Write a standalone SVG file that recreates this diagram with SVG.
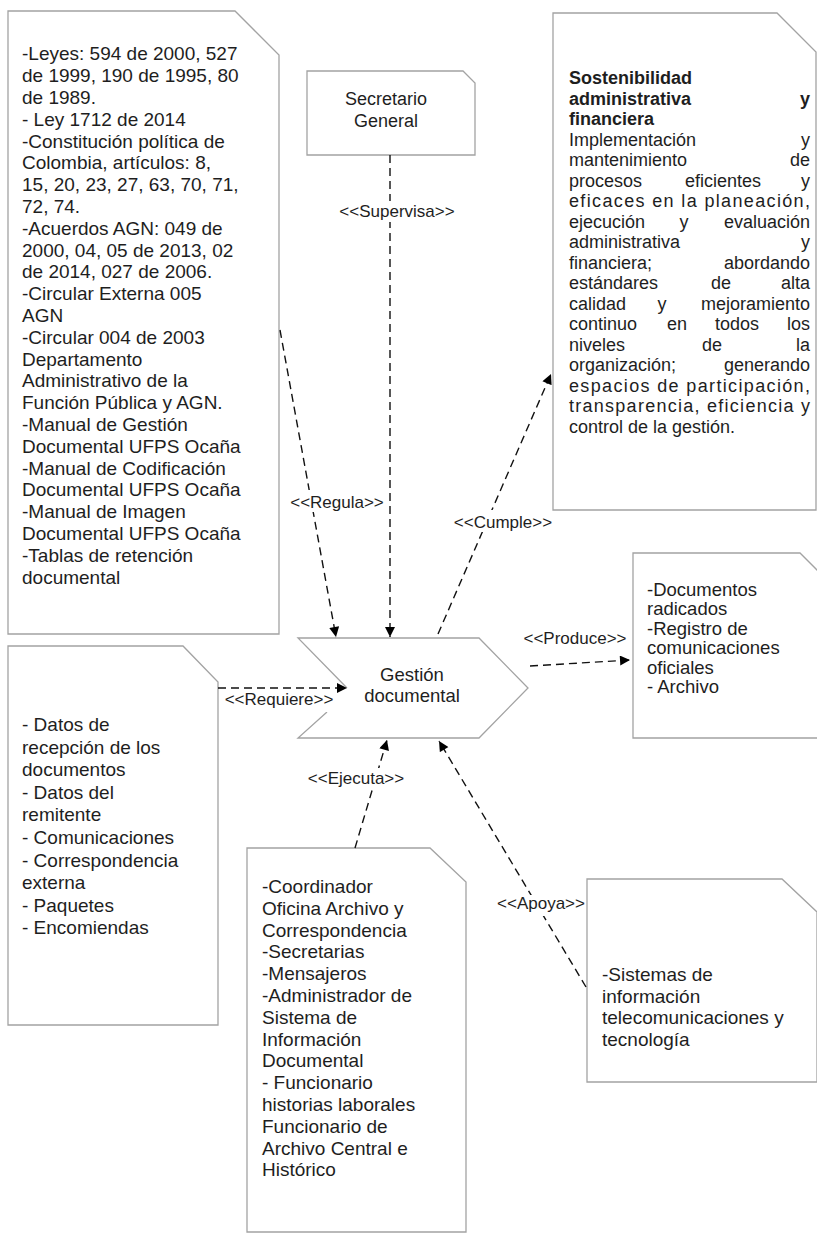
<svg xmlns="http://www.w3.org/2000/svg" width="817" height="1237" viewBox="0 0 817 1237">
<defs>
<style>
.note{fill:#fff;stroke:#a3a3a3;stroke-width:1.3}
.t{font-family:"Liberation Sans",Arial,sans-serif;font-size:19px;fill:#1e1e1e}
.t18{font-family:"Liberation Sans",Arial,sans-serif;font-size:18px;fill:#1e1e1e}
.b{font-weight:bold}
.conn{stroke:#111;stroke-width:1.4;stroke-dasharray:8 5;fill:none}
.lbl{font-family:"Liberation Sans",Arial,sans-serif;font-size:17px;fill:#1e1e1e;text-anchor:middle}
.lblbg{fill:#fff}
</style>
<marker id="ah" viewBox="0 0 10 10" refX="10" refY="5" markerWidth="11" markerHeight="10" markerUnits="userSpaceOnUse" orient="auto">
<path d="M0,0 L10,5 L0,10 z" fill="#000"/>
</marker>
</defs>
<rect width="817" height="1237" fill="#fff"/>

<g id="node-normativa">
<path class="note" d="M8,11 L235,11 L279,55 L279,634 L8,634 Z"/>
<text class="t" x="22" y="60.4">
<tspan x="22" y="60.4">-Leyes: 594 de 2000, 527</tspan>
<tspan x="22" y="82.2">de 1999, 190 de 1995, 80</tspan>
<tspan x="22" y="104">de 1989.</tspan>
<tspan x="22" y="125.8">- Ley 1712 de 2014</tspan>
<tspan x="22" y="147.6">-Constitución política de</tspan>
<tspan x="22" y="169.4">Colombia, artículos: 8,</tspan>
<tspan x="22" y="191.2">15, 20, 23, 27, 63, 70, 71,</tspan>
<tspan x="22" y="213">72, 74.</tspan>
<tspan x="22" y="234.8">-Acuerdos AGN: 049 de</tspan>
<tspan x="22" y="256.6">2000, 04, 05 de 2013, 02</tspan>
<tspan x="22" y="278.4">de 2014, 027 de 2006.</tspan>
<tspan x="22" y="300.2">-Circular Externa 005</tspan>
<tspan x="22" y="322">AGN</tspan>
<tspan x="22" y="343.8">-Circular 004 de 2003</tspan>
<tspan x="22" y="365.6">Departamento</tspan>
<tspan x="22" y="387.4">Administrativo de la</tspan>
<tspan x="22" y="409.2">Función Pública y AGN.</tspan>
<tspan x="22" y="431">-Manual de Gestión</tspan>
<tspan x="22" y="452.8">Documental UFPS Ocaña</tspan>
<tspan x="22" y="474.6">-Manual de Codificación</tspan>
<tspan x="22" y="496.4">Documental UFPS Ocaña</tspan>
<tspan x="22" y="518.2">-Manual de Imagen</tspan>
<tspan x="22" y="540">Documental UFPS Ocaña</tspan>
<tspan x="22" y="561.8">-Tablas de retención</tspan>
<tspan x="22" y="583.6">documental</tspan>
</text>
</g>

<g id="node-secretario">
<path class="note" d="M307,71 L463,71 L475,83 L475,155 L307,155 Z"/>
<text class="t18" text-anchor="middle"><tspan x="386" y="105">Secretario</tspan><tspan x="386" y="127">General</tspan></text>
</g>

<g id="node-sostenibilidad">
<path class="note" d="M553,13 L777,13 L816,52 L816,510 L553,510 Z"/>
<g class="t18">
<text class="t18 b" x="569" y="84">Sostenibilidad</text>
<text class="t18 b" x="569" y="104.5">administrativa</text>
<text class="t18 b" x="810" y="104.5" text-anchor="end">y</text>
<text class="t18 b" x="569" y="125">financiera</text>
<text class="t18" x="569" y="145.5">Implementación</text>
<text class="t18" x="810" y="145.5" text-anchor="end">y</text>
<text class="t18" x="569" y="166">mantenimiento</text>
<text class="t18" x="810" y="166" text-anchor="end">de</text>
<text class="t18" x="569" y="186.5">procesos</text>
<text class="t18" x="723" y="186.5" text-anchor="middle">eficientes</text>
<text class="t18" x="810" y="186.5" text-anchor="end">y</text>
<text class="t18" x="569" y="207" textLength="241" lengthAdjust="spacing">eficaces en la planeación,</text>
<text class="t18" x="569" y="227.5">ejecución</text>
<text class="t18" x="684" y="227.5" text-anchor="middle">y</text>
<text class="t18" x="810" y="227.5" text-anchor="end">evaluación</text>
<text class="t18" x="569" y="248">administrativa</text>
<text class="t18" x="810" y="248" text-anchor="end">y</text>
<text class="t18" x="569" y="268.5">financiera;</text>
<text class="t18" x="810" y="268.5" text-anchor="end">abordando</text>
<text class="t18" x="569" y="289">estándares</text>
<text class="t18" x="721" y="289" text-anchor="middle">de</text>
<text class="t18" x="810" y="289" text-anchor="end">alta</text>
<text class="t18" x="569" y="309.5">calidad</text>
<text class="t18" x="662" y="309.5" text-anchor="middle">y</text>
<text class="t18" x="810" y="309.5" text-anchor="end">mejoramiento</text>
<text class="t18" x="569" y="330">continuo</text>
<text class="t18" x="677" y="330" text-anchor="middle">en</text>
<text class="t18" x="737" y="330" text-anchor="middle">todos</text>
<text class="t18" x="810" y="330" text-anchor="end">los</text>
<text class="t18" x="569" y="350.5">niveles</text>
<text class="t18" x="712" y="350.5" text-anchor="middle">de</text>
<text class="t18" x="810" y="350.5" text-anchor="end">la</text>
<text class="t18" x="569" y="371">organización;</text>
<text class="t18" x="810" y="371" text-anchor="end">generando</text>
<text class="t18" x="569" y="391.5" textLength="241" lengthAdjust="spacing">espacios de participación,</text>
<text class="t18" x="569" y="412" textLength="241" lengthAdjust="spacing">transparencia, eficiencia y</text>
<text class="t18" x="569" y="432.5">control de la gestión.</text>
</g>
</g>

<g id="node-requisitos">
<path class="note" d="M8,646 L183,646 L218,682 L218,1025 L8,1025 Z"/>
<text class="t">
<tspan x="22" y="731">- Datos de</tspan>
<tspan x="22" y="753.6">recepción de los</tspan>
<tspan x="22" y="776.2">documentos</tspan>
<tspan x="22" y="798.8">- Datos del</tspan>
<tspan x="22" y="821.4">remitente</tspan>
<tspan x="22" y="844">- Comunicaciones</tspan>
<tspan x="22" y="866.6">- Correspondencia</tspan>
<tspan x="22" y="889.2">externa</tspan>
<tspan x="22" y="911.8">- Paquetes</tspan>
<tspan x="22" y="934.4">- Encomiendas</tspan>
</text>
</g>

<g id="node-gestion">
<path d="M298,638 L479,638 L528,688 L479,738 L298,738 L347,688 Z" fill="#fff" stroke="none"/>
<path d="M327,712 L298,738 L479,738 L528,688 L479,638 L298,638 L347,688" fill="none" stroke="#a3a3a3" stroke-width="1.3"/>
<text class="t18" text-anchor="middle" style="font-size:18.5px"><tspan x="412" y="681">Gestión</tspan><tspan x="412" y="702">documental</tspan></text>
</g>

<g id="node-productos">
<path class="note" d="M633,553 L800,553 L838,591 L838,738 L633,738 Z"/>
<text class="t" style="font-size:18.5px">
<tspan x="647" y="596">-Documentos</tspan>
<tspan x="647" y="615.4">radicados</tspan>
<tspan x="647" y="634.8">-Registro de</tspan>
<tspan x="647" y="654.2">comunicaciones</tspan>
<tspan x="647" y="673.6">oficiales</tspan>
<tspan x="647" y="693">- Archivo</tspan>
</text>
</g>

<g id="node-responsables">
<path class="note" d="M247,848 L430,848 L466,882 L466,1232 L247,1232 Z"/>
<text class="t">
<tspan x="262" y="893">-Coordinador</tspan>
<tspan x="262" y="914.8">Oficina Archivo y</tspan>
<tspan x="262" y="936.6">Correspondencia</tspan>
<tspan x="262" y="958.4">-Secretarias</tspan>
<tspan x="262" y="980.2">-Mensajeros</tspan>
<tspan x="262" y="1002">-Administrador de</tspan>
<tspan x="262" y="1023.8">Sistema de</tspan>
<tspan x="262" y="1045.6">Información</tspan>
<tspan x="262" y="1067.4">Documental</tspan>
<tspan x="262" y="1089.2">- Funcionario</tspan>
<tspan x="262" y="1111">historias laborales</tspan>
<tspan x="262" y="1132.8">Funcionario de</tspan>
<tspan x="262" y="1154.6">Archivo Central e</tspan>
<tspan x="262" y="1176.4">Histórico</tspan>
</text>
</g>

<g id="node-sistemas">
<path class="note" d="M587,879 L782,879 L817,912 L817,1082 L587,1082 Z"/>
<text class="t">
<tspan x="602" y="981">-Sistemas de</tspan>
<tspan x="602" y="1002.7">información</tspan>
<tspan x="602" y="1024.4">telecomunicaciones y</tspan>
<tspan x="602" y="1046">tecnología</tspan>
</text>
</g>

<g id="connectors">
<line class="conn" x1="390" y1="155" x2="390" y2="637" marker-end="url(#ah)"/>
<line class="conn" x1="280" y1="330" x2="336" y2="637" marker-end="url(#ah)"/>
<line class="conn" x1="438" y1="634" x2="551" y2="374" marker-end="url(#ah)"/>
<line class="conn" x1="218" y1="688" x2="347" y2="688" marker-end="url(#ah)"/>
<line class="conn" x1="530" y1="666" x2="630" y2="660" marker-end="url(#ah)"/>
<line class="conn" x1="355" y1="848" x2="387" y2="740" marker-end="url(#ah)"/>
<line class="conn" x1="586" y1="987" x2="439" y2="741" marker-end="url(#ah)"/>
<g id="labels">
<rect class="lblbg" x="339" y="201" width="116" height="21"/>
<text class="lbl" x="397" y="217">&lt;&lt;Supervisa&gt;&gt;</text>
<rect class="lblbg" x="290" y="490" width="94" height="22"/>
<text class="lbl" x="337" y="508">&lt;&lt;Regula&gt;&gt;</text>
<rect class="lblbg" x="454" y="510" width="98" height="22"/>
<text class="lbl" x="503" y="528">&lt;&lt;Cumple&gt;&gt;</text>
<rect class="lblbg" x="225" y="693" width="108" height="19"/>
<text class="lbl" x="279" y="705">&lt;&lt;Requiere&gt;&gt;</text>
<rect class="lblbg" x="522" y="628" width="106" height="20"/>
<text class="lbl" x="575" y="644">&lt;&lt;Produce&gt;&gt;</text>
<rect class="lblbg" x="308" y="768" width="96" height="21"/>
<text class="lbl" x="356" y="784">&lt;&lt;Ejecuta&gt;&gt;</text>
<rect class="lblbg" x="497" y="895" width="88" height="21"/>
<text class="lbl" x="541" y="909">&lt;&lt;Apoya&gt;&gt;</text>
</g>
</g>
</svg>
